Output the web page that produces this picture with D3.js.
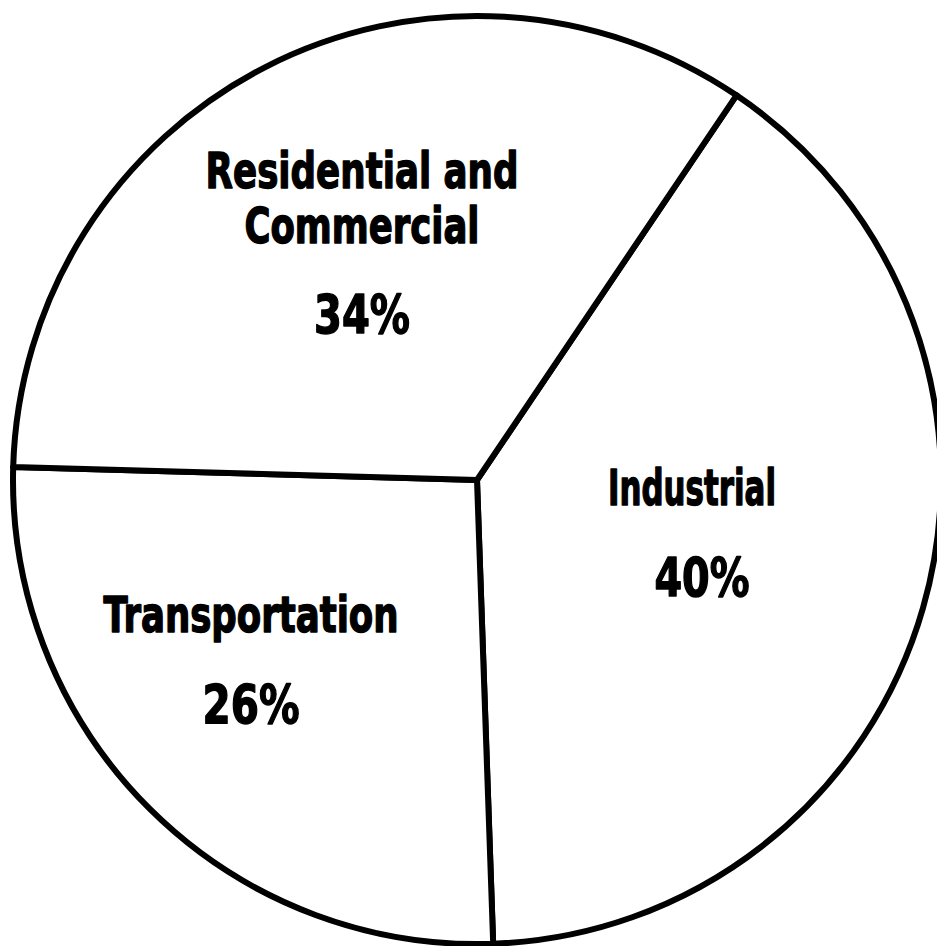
<!DOCTYPE html>
<html>
<head>
<meta charset="utf-8">
<script src="https://cdn.jsdelivr.net/npm/d3@7"></script>
<style>
  html, body { margin: 0; padding: 0; background: #fff; }
  svg { display: block; }
  .lbl { font-family: "Liberation Sans Narrow", "DejaVu Sans Condensed", "Liberation Sans", sans-serif; font-weight: bold; fill: #000; stroke: #000; stroke-width: 1.4; stroke-linejoin: round; }
</style>
</head>
<body>
<svg id="chart" width="937" height="946"></svg>
<script>
// Energy use by sector (percent of total)
const categories = ["Industrial", "Transportation", "Residential and Commercial"];
const shares = [40, 26, 34];
const shareLabels = ["40%", "26%", "34%"];

// Layout
const W = 937, H = 946;
const cx = 477, cy = 480, R = 464;
const rotation = 34 * Math.PI / 180;   // where the first slice begins, clockwise from 12 o'clock
const nameSize = 50, pctSize = 54;

// label blocks: name lines and percentage, with their centre x, baselines and widths
const labelLayout = {
  "Industrial": { x: 692, lines: [{ t: "Industrial", y: 505, w: 168 }], pct: { y: 596, w: 95 } },
  "Transportation": { x: 251, lines: [{ t: "Transportation", y: 632, w: 295 }], pct: { y: 723, w: 97 } },
  "Residential and Commercial": { x: 362, lines: [{ t: "Residential and", y: 188, w: 313 }, { t: "Commercial", y: 243, w: 235 }], pct: { y: 333, w: 96 } }
};

const svg = d3.select("#chart");
const g = svg.append("g").attr("transform", `translate(${cx},${cy})`);

const pie = d3.pie().sort(null).value(d => d.value)
  .startAngle(rotation).endAngle(rotation + 2 * Math.PI);
const arc = d3.arc().innerRadius(0).outerRadius(R);

const data = categories.map((c, i) => ({ name: c, value: shares[i], label: shareLabels[i] }));

g.selectAll("path.slice")
  .data(pie(data))
  .join("path")
  .attr("class", "slice")
  .attr("d", arc)
  .attr("fill", "#fff")
  .attr("stroke", "#000")
  .attr("stroke-width", 6)
  .attr("stroke-linejoin", "round");

const labels = svg.append("g");
data.forEach(d => {
  const L = labelLayout[d.name];
  L.lines.forEach(line => {
    labels.append("text")
      .attr("class", "lbl")
      .attr("x", L.x).attr("y", line.y)
      .attr("text-anchor", "middle")
      .attr("font-size", nameSize)
      .attr("textLength", line.w)
      .attr("lengthAdjust", "spacingAndGlyphs")
      .text(line.t);
  });
  labels.append("text")
    .attr("class", "lbl")
    .attr("x", L.x + (d.name === "Industrial" ? 10 : 0)).attr("y", L.pct.y)
    .attr("text-anchor", "middle")
    .attr("font-size", pctSize)
    .attr("textLength", L.pct.w)
    .attr("lengthAdjust", "spacingAndGlyphs")
    .text(d.label);
});
</script>
</body>
</html>
